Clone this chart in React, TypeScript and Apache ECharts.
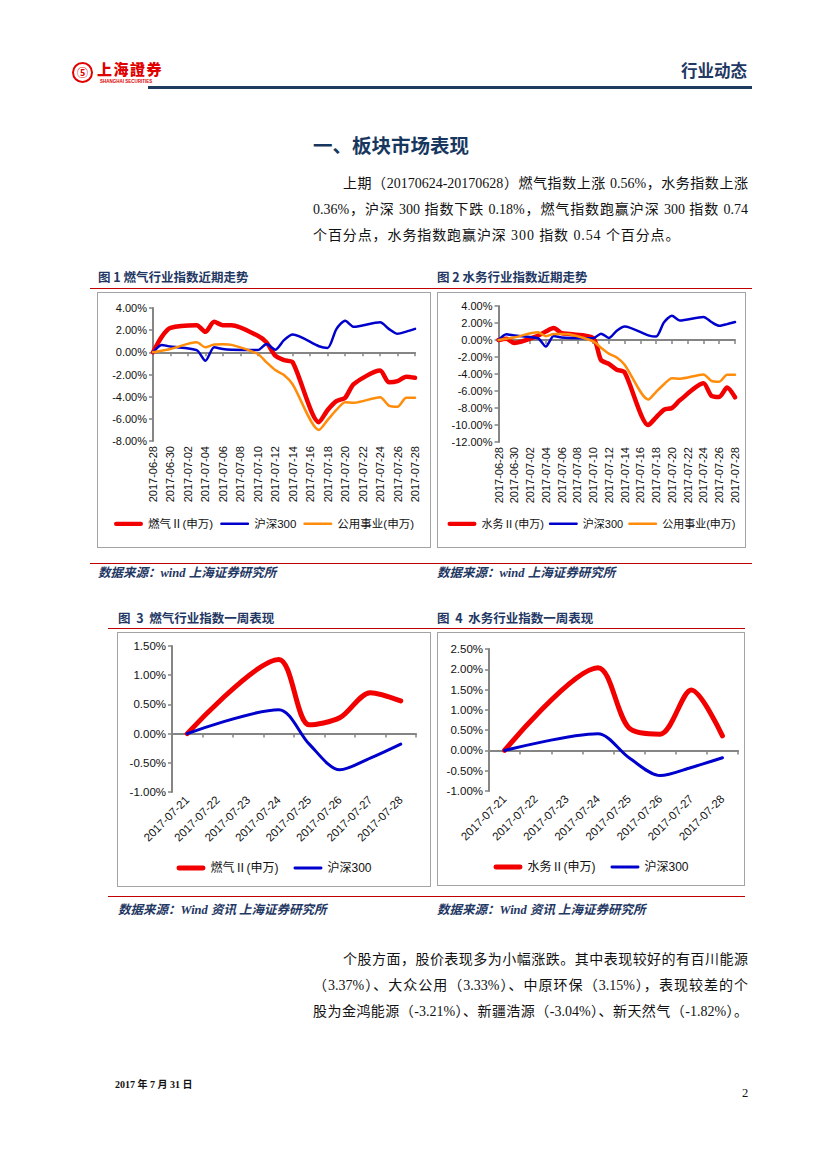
import React, { useEffect, useRef } from 'react';
import * as echarts from 'echarts';

// ---------- data ----------
const longDates = [
  '2017-06-28', '2017-06-29', '2017-06-30', '2017-07-01', '2017-07-02', '2017-07-03', '2017-07-04',
  '2017-07-05', '2017-07-06', '2017-07-07', '2017-07-08', '2017-07-09', '2017-07-10', '2017-07-11',
  '2017-07-12', '2017-07-13', '2017-07-14', '2017-07-15', '2017-07-16', '2017-07-17', '2017-07-18',
  '2017-07-19', '2017-07-20', '2017-07-21', '2017-07-22', '2017-07-23', '2017-07-24', '2017-07-25',
  '2017-07-26', '2017-07-27', '2017-07-28',
];
// null = weekend (no trading), lines connect across
const gasLong = [0, 1.4, 2.2, null, null, 2.45, 1.85, 2.75, 2.45, 2.45, null, null, 1.5, 0.9, -0.3, -0.7, -0.9, null, null, -6.3, -5.2, -4.4, -4.1, -2.85, null, null, -1.65, -2.7, -2.6, -2.2, -2.3];
const hs300Long = [0, 0.67, 0.52, null, null, 0.2, -0.76, 0.46, 0.3, 0.24, null, null, 0.2, 0.75, 0.24, 1.1, 1.6, null, null, 0.55, 0.4, 2.1, 2.85, 2.3, null, null, 2.72, 2.12, 1.67, 1.87, 2.12];
const utilLong = [0, 0.15, 0.3, null, null, 0.9, 0.45, 0.7, 0.72, 0.67, null, null, -0.15, -0.9, -1.6, -2.05, -2.9, null, null, -7.0, -6.1, -5.2, -4.5, -4.55, null, null, -4.05, -4.8, -4.9, -4.1, -4.1];
const waterLong = [0, 0.15, -0.35, null, null, 0.5, 1.0, 1.4, 0.8, 0.7, null, null, 0.25, -2.35, -2.8, -3.5, -3.8, null, null, -10.0, -9.1, -8.2, -8.0, -7.1, null, null, -5.1, -6.55, -6.7, -5.6, -6.74];

const weekDates = ['2017-07-21', '2017-07-22', '2017-07-23', '2017-07-24', '2017-07-25', '2017-07-26', '2017-07-27', '2017-07-28'];
const gasWeek = [0, null, null, 1.27, 0.15, 0.27, 0.7, 0.56];
const hs300Week = [0, null, null, 0.41, -0.18, -0.62, -0.42, -0.18];
const waterWeek = [0, null, null, 2.04, 0.55, 0.4, 1.49, 0.36];

const yRange1 = [-8, 4, 2];
const yRange2 = [-12, 4, 2];
const yRange3 = [-1, 1.5, 0.5];
const yRange4 = [-1, 2.5, 0.5];

const RED = '#F20000';
const BLUE = '#0000CC';
const ORANGE = '#FF8C0A';
const NAVY = '#1F3864';
const FONT = '"Liberation Sans", Arial, "Noto Sans CJK SC", sans-serif';

// legend line icon of given thickness inside a 30x12 box (corner dots fix the box)
function lineIcon(t: number) {
  const y0 = 6 - t / 2;
  const y1 = 6 + t / 2;
  const r = t / 2;
  return `path://M0,0 L0.001,0 M0,12 L0.001,12 M${r},${y0} H${30 - r} A${r},${r} 0 0 1 ${30 - r},${y1} H${r} A${r},${r} 0 0 1 ${r},${y0} Z`;
}

function buildOption(cfg: any) {
  const { categories, series, yr, grid, long, legendTop, legendGap, legendFont, yFont, xFont, smooth } = cfg;
  return {
    animation: false,
    textStyle: { fontFamily: FONT },
    grid: { ...grid, containLabel: false },
    legend: {
      top: legendTop,
      left: 'center',
      padding: 0,
      itemWidth: 29,
      itemHeight: 12,
      itemGap: legendGap,
      textStyle: { fontSize: legendFont, color: '#111', fontFamily: FONT },
      data: series.map((s: any) => ({
        name: s.name,
        icon: lineIcon(s.width),
        itemStyle: { color: s.color, borderWidth: 0 },
      })),
    },
    xAxis: {
      type: 'category',
      data: categories,
      boundaryGap: !long,
      axisLine: { lineStyle: { color: '#858585', width: 2 } },
      axisTick: long
        ? { show: true, interval: 1, length: 4, lineStyle: { color: '#858585', width: 1.5 } }
        : { show: true, length: 4, lineStyle: { color: '#858585', width: 1.5 } },
      axisLabel: {
        interval: long ? 1 : 0,
        rotate: long ? 90 : 45,
        margin: long ? 5 : 6,
        fontSize: xFont,
        color: '#111',
        fontFamily: FONT,
      },
      splitLine: { show: false },
    },
    yAxis: {
      type: 'value',
      min: yr[0],
      max: yr[1],
      interval: yr[2],
      axisLine: { show: true, lineStyle: { color: '#858585', width: 2 } },
      axisTick: { show: true, length: 4, lineStyle: { color: '#858585', width: 1.5 } },
      axisLabel: {
        fontSize: yFont,
        color: '#111',
        margin: 6,
        fontFamily: FONT,
        formatter: (v: number) => v.toFixed(2) + '%',
      },
      splitLine: { show: false },
    },
    series: series.map((s: any) => ({
      name: s.name,
      type: 'line',
      data: s.data,
      connectNulls: true,
      smooth,
      symbol: 'none',
      lineStyle: { color: s.color, width: s.width, cap: 'round', join: 'round' },
      itemStyle: { color: s.color },
    })),
  };
}

function EChart({ option, style }: any) {
  const ref = useRef<HTMLDivElement>(null);
  useEffect(() => {
    const chart = echarts.init(ref.current as HTMLDivElement, null, { renderer: 'svg' });
    chart.setOption(option);
    return () => chart.dispose();
  }, []);
  return <div ref={ref} style={style} />;
}

function Frame({ left, top, width, height, option }: any) {
  return (
    <div style={{ position: 'absolute', left, top, width, height, border: '1px solid #A3A3A3', boxSizing: 'border-box' }}>
      <EChart option={option} style={{ position: 'absolute', left: 0, top: 0, width: width - 2, height: height - 2 }} />
    </div>
  );
}

const opt1 = buildOption({
  categories: longDates,
  long: true,
  smooth: 0.25,
  yr: yRange1,
  grid: { left: 55, right: 15, top: 15, bottom: 106 },
  legendTop: 225,
  legendGap: 7,
  legendFont: 11.5,
  yFont: 11,
  xFont: 11,
  series: [
    { name: '燃气Ⅱ(申万)', data: gasLong, color: RED, width: 4.5 },
    { name: '沪深300', data: hs300Long, color: BLUE, width: 2.5 },
    { name: '公用事业(申万)', data: utilLong, color: ORANGE, width: 2.5 },
  ],
});
const opt2 = buildOption({
  categories: longDates,
  long: true,
  smooth: 0.25,
  yr: yRange2,
  grid: { left: 60.5, right: 10, top: 13, bottom: 105 },
  legendTop: 225,
  legendGap: 5,
  legendFont: 11,
  yFont: 11,
  xFont: 11,
  series: [
    { name: '水务Ⅱ(申万)', data: waterLong, color: RED, width: 4.5 },
    { name: '沪深300', data: hs300Long, color: BLUE, width: 2.5 },
    { name: '公用事业(申万)', data: utilLong, color: ORANGE, width: 2.5 },
  ],
});
const opt3 = buildOption({
  categories: weekDates,
  long: false,
  smooth: 0.3,
  yr: yRange3,
  grid: { left: 54, right: 14, top: 13, bottom: 94 },
  legendTop: 229,
  legendGap: 15,
  legendFont: 12,
  yFont: 11.5,
  xFont: 11.5,
  series: [
    { name: '燃气Ⅱ(申万)', data: gasWeek, color: RED, width: 5 },
    { name: '沪深300', data: hs300Week, color: BLUE, width: 3 },
  ],
});
const opt4 = buildOption({
  categories: weekDates,
  long: false,
  smooth: 0.3,
  yr: yRange4,
  grid: { left: 51, right: 6, top: 16, bottom: 94 },
  legendTop: 228,
  legendGap: 15,
  legendFont: 12,
  yFont: 11.5,
  xFont: 11.5,
  series: [
    { name: '水务Ⅱ(申万)', data: waterWeek, color: RED, width: 5 },
    { name: '沪深300', data: hs300Week, color: BLUE, width: 3 },
  ],
});

const bodyFont = '"Liberation Serif", "Times New Roman", "Noto Sans CJK SC", serif';
const cjkBold = '"Noto Sans CJK SC", sans-serif';

function Line({ left, top, width, children, justify, style }: any) {
  return (
    <div
      style={{
        position: 'absolute',
        left,
        top,
        width,
        fontFamily: bodyFont,
        fontSize: 14,
        lineHeight: '20px',
        color: '#111',
        whiteSpace: 'nowrap',
        textAlign: justify ? 'justify' : 'left',
        textAlignLast: justify ? 'justify' : 'auto',
        ...style,
      } as any}
    >
      {children}
    </div>
  );
}

function Caption({ left, top, children }: any) {
  return (
    <div style={{ position: 'absolute', left, top, fontFamily: cjkBold, fontWeight: 700, fontSize: 12.5, lineHeight: '16px', color: NAVY, whiteSpace: 'nowrap' }}>
      {children}
    </div>
  );
}

function Source({ left, top, children }: any) {
  return (
    <div style={{ position: 'absolute', left, top, fontFamily: '"Liberation Serif", "Noto Sans CJK SC", serif', fontStyle: 'italic', fontWeight: 700, fontSize: 12.5, lineHeight: '16px', color: NAVY, whiteSpace: 'nowrap' }}>
      {children}
    </div>
  );
}

function HRule({ left, top, width, color, h }: any) {
  return <div style={{ position: 'absolute', left, top, width, height: h, background: color }} />;
}

export default function App() {
  return (
    <div style={{ position: 'absolute', left: 0, top: 0, width: 827, height: 1169, background: '#fff', overflow: 'hidden' }}>
      {/* header logo */}
      <div style={{ position: 'absolute', left: 72, top: 62, width: 17, height: 17, borderRadius: '50%', border: '2px solid #E00000', color: '#E00000', fontFamily: cjkBold, fontWeight: 700, fontSize: 11, lineHeight: '17px', textAlign: 'center' }}>
        ⑤
      </div>
      <div style={{ position: 'absolute', left: 97, top: 60, fontFamily: cjkBold, fontWeight: 900, fontSize: 15, lineHeight: '17px', color: '#E00000', letterSpacing: 1.5 }}>上海證券</div>
      <div style={{ position: 'absolute', left: 100, top: 79, fontFamily: FONT, fontWeight: 700, fontSize: 4.5, lineHeight: '5px', color: '#E00000', whiteSpace: 'nowrap' }}>SHANGHAI SECURITIES</div>
      <div style={{ position: 'absolute', left: 681, top: 60, fontFamily: cjkBold, fontWeight: 700, fontSize: 16.5, lineHeight: '20px', color: NAVY, whiteSpace: 'nowrap' }}>行业动态</div>
      <HRule left={148} top={86} width={604} h={2.5} color={'#1F3A5F'} />

      {/* section title */}
      <div style={{ position: 'absolute', left: 313, top: 133, fontFamily: cjkBold, fontWeight: 700, fontSize: 19.5, lineHeight: '24px', color: '#17375E', whiteSpace: 'nowrap' }}>一、板块市场表现</div>

      <Line left={343} top={174} width={405} justify>上期（20170624-20170628）燃气指数上涨 0.56%，水务指数上涨</Line>
      <Line left={313} top={200} width={435} justify>0.36%，沪深 300 指数下跌 0.18%，燃气指数跑赢沪深 300 指数 0.74</Line>
      <Line left={313} top={226} width={435} style={{ letterSpacing: 0.9 }}>个百分点，水务指数跑赢沪深 300 指数 0.54 个百分点。</Line>

      {/* figure 1 & 2 */}
      <Caption left={98} top={269}>图 1 燃气行业指数近期走势</Caption>
      <Caption left={437} top={269}>图 2 水务行业指数近期走势</Caption>
      <HRule left={90} top={288} width={662} h={1.2} color={'#C00000'} />
      <Frame left={97} top={292} width={334} height={256} option={opt1} />
      <Frame left={437} top={292} width={309} height={256} option={opt2} />
      <HRule left={90} top={563} width={662} h={1.2} color={'#C00000'} />
      <Source left={98} top={565}>数据来源：wind 上海证券研究所</Source>
      <Source left={437} top={565}>数据来源：wind 上海证券研究所</Source>

      {/* figure 3 & 4 */}
      <Caption left={118} top={610}>图&nbsp; 3&nbsp; 燃气行业指数一周表现</Caption>
      <Caption left={437} top={610}>图&nbsp; 4&nbsp; 水务行业指数一周表现</Caption>
      <HRule left={108} top={628} width={637} h={1.2} color={'#C00000'} />
      <Frame left={117} top={632} width={314} height={255} option={opt3} />
      <Frame left={437} top={632} width={308} height={254} option={opt4} />
      <HRule left={108} top={896} width={637} h={1.2} color={'#C00000'} />
      <Source left={118} top={902}>数据来源：Wind 资讯 上海证券研究所</Source>
      <Source left={437} top={902}>数据来源：Wind 资讯 上海证券研究所</Source>

      <Line left={343} top={950} width={405} justify>个股方面，股价表现多为小幅涨跌。其中表现较好的有百川能源</Line>
      <Line left={313} top={976} width={435} justify>（3.37%）、大众公用（3.33%）、中原环保（3.15%），表现较差的个</Line>
      <Line left={313} top={1002} width={435} justify>股为金鸿能源（-3.21%）、新疆浩源（-3.04%）、新天然气（-1.82%）。</Line>

      {/* footer */}
      <div style={{ position: 'absolute', left: 115, top: 1078, fontFamily: '"Liberation Serif", "Noto Sans CJK SC", serif', fontWeight: 700, fontSize: 10, lineHeight: '14px', color: '#111', whiteSpace: 'nowrap' }}>2017 年 7 月 31 日</div>
      <div style={{ position: 'absolute', left: 742, top: 1085, fontFamily: bodyFont, fontSize: 12.5, lineHeight: '16px', color: '#111' }}>2</div>
    </div>
  );
}
